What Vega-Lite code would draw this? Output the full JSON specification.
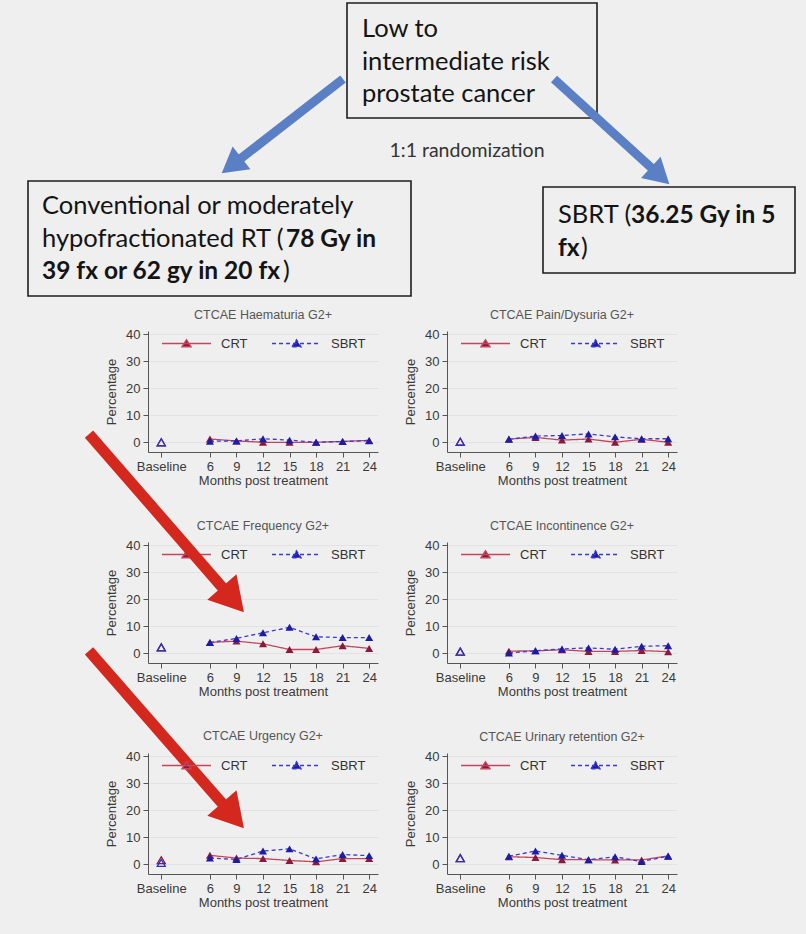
{
  "$schema": "https://vega.github.io/schema/vega-lite/v6.json",
  "autosize": "none",
  "padding": {"left": 148, "top": 0, "right": 658, "bottom": 934},
  "background": "#efefef",
  "columns": 2,
  "spacing": {"row": 90, "column": 69},
  "bounds": "flush",
  "resolve": {
    "scale": {"color": "independent", "strokeDash": "independent"},
    "legend": {"color": "independent", "strokeDash": "independent"}
  },
  "datasets": {
    "boxes": [
      {"x": 347, "x2": 597, "y": 3, "y2": 118},
      {"x": 28, "x2": 411, "y": 181, "y2": 296},
      {"x": 543, "x2": 795, "y": 187, "y2": 273}
    ],
    "arrows": [
      {"x": 343, "y": 79, "x2": 231.6, "y2": 165.6, "angle": 142.2},
      {"x": 554, "y": 79, "x2": 660.1, "y2": 175.8, "angle": 42.4}
    ],
    "labels": [
      {"x": 362, "y": 37, "text": "Low to", "bold": false},
      {"x": 362, "y": 70, "text": "intermediate risk", "bold": false},
      {"x": 362, "y": 102, "text": "prostate cancer", "bold": false},
      {"x": 42, "y": 214, "text": "Conventional or moderately", "bold": false},
      {"x": 42, "y": 247, "text": "hypofractionated RT (", "bold": false},
      {"x": 286, "y": 247, "text": "78 Gy in", "bold": true},
      {"x": 42, "y": 279, "text": "39 fx or 62 gy in 20 fx", "bold": true},
      {"x": 283, "y": 279, "text": ")", "bold": false},
      {"x": 558, "y": 223, "text": "SBRT (", "bold": false},
      {"x": 631, "y": 223, "text": "36.25 Gy in 5", "bold": true},
      {"x": 558, "y": 256, "text": "fx", "bold": true},
      {"x": 581, "y": 256, "text": ")", "bold": false}
    ],
    "notes": [
      {"x": 467, "y": 157, "text": "1:1 randomization"}
    ],
    "pointers": [
      {"month": -7.67, "pct": 159.3, "month2": 8.6, "pct2": 98.0, "angle": 48.9},
      {"month": -7.67, "pct": 79.0, "month2": 8.6, "pct2": 18.0, "angle": 48.9}
    ],
    "tox": [
      {"panel": "Haematuria", "series": "CRT", "month": 0.5, "pct": 0},
      {"panel": "Haematuria", "series": "CRT", "month": 6, "pct": 1.2},
      {"panel": "Haematuria", "series": "CRT", "month": 9, "pct": 0.5},
      {"panel": "Haematuria", "series": "CRT", "month": 12, "pct": 0},
      {"panel": "Haematuria", "series": "CRT", "month": 15, "pct": 0},
      {"panel": "Haematuria", "series": "CRT", "month": 18, "pct": 0},
      {"panel": "Haematuria", "series": "CRT", "month": 21, "pct": 0.3},
      {"panel": "Haematuria", "series": "CRT", "month": 24, "pct": 0.7},
      {"panel": "Haematuria", "series": "SBRT", "month": 0.5, "pct": 0},
      {"panel": "Haematuria", "series": "SBRT", "month": 6, "pct": 0.4},
      {"panel": "Haematuria", "series": "SBRT", "month": 9, "pct": 0.5},
      {"panel": "Haematuria", "series": "SBRT", "month": 12, "pct": 1.3},
      {"panel": "Haematuria", "series": "SBRT", "month": 15, "pct": 0.8},
      {"panel": "Haematuria", "series": "SBRT", "month": 18, "pct": 0},
      {"panel": "Haematuria", "series": "SBRT", "month": 21, "pct": 0.3},
      {"panel": "Haematuria", "series": "SBRT", "month": 24, "pct": 0.6},
      {"panel": "Pain", "series": "CRT", "month": 0.5, "pct": 0.2},
      {"panel": "Pain", "series": "CRT", "month": 6, "pct": 1.2},
      {"panel": "Pain", "series": "CRT", "month": 9, "pct": 1.8},
      {"panel": "Pain", "series": "CRT", "month": 12, "pct": 0.8},
      {"panel": "Pain", "series": "CRT", "month": 15, "pct": 1.2},
      {"panel": "Pain", "series": "CRT", "month": 18, "pct": 0},
      {"panel": "Pain", "series": "CRT", "month": 21, "pct": 1.1},
      {"panel": "Pain", "series": "CRT", "month": 24, "pct": 0},
      {"panel": "Pain", "series": "SBRT", "month": 0.5, "pct": 0.2},
      {"panel": "Pain", "series": "SBRT", "month": 6, "pct": 1.1},
      {"panel": "Pain", "series": "SBRT", "month": 9, "pct": 2.3},
      {"panel": "Pain", "series": "SBRT", "month": 12, "pct": 2.5},
      {"panel": "Pain", "series": "SBRT", "month": 15, "pct": 3.1},
      {"panel": "Pain", "series": "SBRT", "month": 18, "pct": 2.0},
      {"panel": "Pain", "series": "SBRT", "month": 21, "pct": 1.3},
      {"panel": "Pain", "series": "SBRT", "month": 24, "pct": 1.3},
      {"panel": "Frequency", "series": "CRT", "month": 0.5, "pct": 2.2},
      {"panel": "Frequency", "series": "CRT", "month": 6, "pct": 4.0},
      {"panel": "Frequency", "series": "CRT", "month": 9, "pct": 4.5},
      {"panel": "Frequency", "series": "CRT", "month": 12, "pct": 3.5},
      {"panel": "Frequency", "series": "CRT", "month": 15, "pct": 1.4},
      {"panel": "Frequency", "series": "CRT", "month": 18, "pct": 1.4},
      {"panel": "Frequency", "series": "CRT", "month": 21, "pct": 2.8},
      {"panel": "Frequency", "series": "CRT", "month": 24, "pct": 1.8},
      {"panel": "Frequency", "series": "SBRT", "month": 0.5, "pct": 2.2},
      {"panel": "Frequency", "series": "SBRT", "month": 6, "pct": 4.0},
      {"panel": "Frequency", "series": "SBRT", "month": 9, "pct": 5.5},
      {"panel": "Frequency", "series": "SBRT", "month": 12, "pct": 7.6},
      {"panel": "Frequency", "series": "SBRT", "month": 15, "pct": 9.6},
      {"panel": "Frequency", "series": "SBRT", "month": 18, "pct": 6.1},
      {"panel": "Frequency", "series": "SBRT", "month": 21, "pct": 5.8},
      {"panel": "Frequency", "series": "SBRT", "month": 24, "pct": 5.8},
      {"panel": "Incontinence", "series": "CRT", "month": 0.5, "pct": 0.6},
      {"panel": "Incontinence", "series": "CRT", "month": 6, "pct": 0.8},
      {"panel": "Incontinence", "series": "CRT", "month": 9, "pct": 0.9},
      {"panel": "Incontinence", "series": "CRT", "month": 12, "pct": 1.3},
      {"panel": "Incontinence", "series": "CRT", "month": 15, "pct": 0.7},
      {"panel": "Incontinence", "series": "CRT", "month": 18, "pct": 0.7},
      {"panel": "Incontinence", "series": "CRT", "month": 21, "pct": 1.0},
      {"panel": "Incontinence", "series": "CRT", "month": 24, "pct": 0.6},
      {"panel": "Incontinence", "series": "SBRT", "month": 0.5, "pct": 0.6},
      {"panel": "Incontinence", "series": "SBRT", "month": 6, "pct": 0.1},
      {"panel": "Incontinence", "series": "SBRT", "month": 9, "pct": 0.9},
      {"panel": "Incontinence", "series": "SBRT", "month": 12, "pct": 1.6},
      {"panel": "Incontinence", "series": "SBRT", "month": 15, "pct": 2.0},
      {"panel": "Incontinence", "series": "SBRT", "month": 18, "pct": 1.5},
      {"panel": "Incontinence", "series": "SBRT", "month": 21, "pct": 2.6},
      {"panel": "Incontinence", "series": "SBRT", "month": 24, "pct": 2.8},
      {"panel": "Urgency", "series": "CRT", "month": 0.5, "pct": 1.5},
      {"panel": "Urgency", "series": "CRT", "month": 6, "pct": 3.3},
      {"panel": "Urgency", "series": "CRT", "month": 9, "pct": 2.3},
      {"panel": "Urgency", "series": "CRT", "month": 12, "pct": 2.1},
      {"panel": "Urgency", "series": "CRT", "month": 15, "pct": 1.4},
      {"panel": "Urgency", "series": "CRT", "month": 18, "pct": 0.9},
      {"panel": "Urgency", "series": "CRT", "month": 21, "pct": 2.1},
      {"panel": "Urgency", "series": "CRT", "month": 24, "pct": 2.1},
      {"panel": "Urgency", "series": "SBRT", "month": 0.5, "pct": 0.5},
      {"panel": "Urgency", "series": "SBRT", "month": 6, "pct": 2.3},
      {"panel": "Urgency", "series": "SBRT", "month": 9, "pct": 1.8},
      {"panel": "Urgency", "series": "SBRT", "month": 12, "pct": 4.9},
      {"panel": "Urgency", "series": "SBRT", "month": 15, "pct": 5.7},
      {"panel": "Urgency", "series": "SBRT", "month": 18, "pct": 2.0},
      {"panel": "Urgency", "series": "SBRT", "month": 21, "pct": 3.6},
      {"panel": "Urgency", "series": "SBRT", "month": 24, "pct": 3.2},
      {"panel": "Retention", "series": "CRT", "month": 0.5, "pct": 2.3},
      {"panel": "Retention", "series": "CRT", "month": 6, "pct": 2.8},
      {"panel": "Retention", "series": "CRT", "month": 9, "pct": 2.5},
      {"panel": "Retention", "series": "CRT", "month": 12, "pct": 1.7},
      {"panel": "Retention", "series": "CRT", "month": 15, "pct": 1.7},
      {"panel": "Retention", "series": "CRT", "month": 18, "pct": 1.6},
      {"panel": "Retention", "series": "CRT", "month": 21, "pct": 1.6},
      {"panel": "Retention", "series": "CRT", "month": 24, "pct": 3.1},
      {"panel": "Retention", "series": "SBRT", "month": 0.5, "pct": 2.3},
      {"panel": "Retention", "series": "SBRT", "month": 6, "pct": 3.0},
      {"panel": "Retention", "series": "SBRT", "month": 9, "pct": 4.9},
      {"panel": "Retention", "series": "SBRT", "month": 12, "pct": 3.3},
      {"panel": "Retention", "series": "SBRT", "month": 15, "pct": 1.7},
      {"panel": "Retention", "series": "SBRT", "month": 18, "pct": 2.8},
      {"panel": "Retention", "series": "SBRT", "month": 21, "pct": 1.0},
      {"panel": "Retention", "series": "SBRT", "month": 24, "pct": 3.0}
    ]
  },
  "concat": [
    {
      "width": 230,
      "height": 241,
      "encoding": {
        "x": {"field": "x", "type": "quantitative", "scale": {"domain": [148, 378], "nice": false, "zero": false}, "axis": null},
        "y": {"field": "y", "type": "quantitative", "scale": {"domain": [0, 241], "nice": false, "zero": false, "reverse": true}, "axis": null}
      },
      "layer": [
        {
          "data": {"name": "boxes"},
          "mark": {"type": "rect", "filled": false, "color": "#1e1e1e", "strokeWidth": 1.6},
          "encoding": {"x2": {"field": "x2"}, "y2": {"field": "y2"}}
        },
        {
          "data": {"name": "arrows"},
          "mark": {"type": "rule", "color": "#5a7fc4", "strokeWidth": 9},
          "encoding": {"x2": {"field": "x2"}, "y2": {"field": "y2"}}
        },
        {
          "data": {"name": "arrows"},
          "mark": {"type": "point", "shape": "triangle-right", "filled": true, "size": 840, "color": "#5a7fc4", "opacity": 1},
          "encoding": {
            "x": {"field": "x2", "type": "quantitative", "scale": {"domain": [148, 378], "nice": false, "zero": false}, "axis": null},
            "y": {"field": "y2", "type": "quantitative", "scale": {"domain": [0, 241], "nice": false, "zero": false, "reverse": true}, "axis": null},
            "angle": {"field": "angle", "type": "quantitative", "scale": null}
          }
        },
        {
          "data": {"name": "labels"},
          "transform": [{"filter": "!datum.bold"}],
          "mark": {"type": "text", "align": "left", "baseline": "alphabetic", "font": "Lato", "fontSize": 25.5, "color": "#141414"},
          "encoding": {"text": {"field": "text"}}
        },
        {
          "data": {"name": "labels"},
          "transform": [{"filter": "datum.bold"}],
          "mark": {"type": "text", "align": "left", "baseline": "alphabetic", "font": "Lato", "fontSize": 24.5, "fontWeight": "bold", "color": "#141414"},
          "encoding": {"text": {"field": "text"}}
        },
        {
          "data": {"name": "notes"},
          "mark": {"type": "text", "align": "center", "baseline": "alphabetic", "font": "Lato", "fontSize": 19.5, "color": "#333333"},
          "encoding": {"text": {"field": "text"}}
        }
      ]
    },
    {
      "width": 230,
      "height": 241,
      "data": {"values": [{"k": 1}]},
      "mark": {"type": "point", "opacity": 0}
    },
    {
      "title": "CTCAE Haematuria G2+",
      "width": 230,
      "height": 121,
      "data": {"name": "tox"},
      "encoding": {
        "x": {"field": "month", "type": "quantitative", "title": "Months post treatment", "scale": {"domain": [-1, 25], "nice": false, "zero": false}, "axis": {"values": [0.5, 6, 9, 12, 15, 18, 21, 24], "labelExpr": "datum.value < 1 ? 'Baseline' : datum.label"}},
        "y": {"field": "pct", "type": "quantitative", "title": "Percentage", "scale": {"domain": [-3.6, 41.2], "nice": false, "zero": false}, "axis": {"values": [0, 10, 20, 30, 40]}}
      },
      "layer": [
        {
          "transform": [{"filter": "datum.panel === 'Haematuria' && datum.month >= 6"}],
          "mark": {"type": "line", "strokeWidth": 1.3},
          "encoding": {
            "color": {"field": "series", "type": "nominal", "scale": {"domain": ["CRT", "SBRT"], "range": ["#c4455e", "#3b3bd4"]}, "legend": {"title": null, "encode": {"symbols": {"update": {"fill": {"signal": "datum.value === 'CRT' ? '#8a1a3c' : '#1c1ca6'"}}}}}},
            "strokeDash": {"field": "series", "type": "nominal", "scale": {"domain": ["CRT", "SBRT"], "range": [[1, 0], [4, 3]]}, "legend": {"title": null, "encode": {"symbols": {"update": {"fill": {"signal": "datum.value === 'CRT' ? '#8a1a3c' : '#1c1ca6'"}}}}}}
          }
        },
        {
          "transform": [{"filter": "datum.panel === 'Haematuria' && datum.month >= 6"}],
          "mark": {"type": "point", "shape": "triangle-up", "filled": true, "size": 65, "opacity": 1},
          "encoding": {"fill": {"field": "series", "type": "nominal", "scale": {"domain": ["CRT", "SBRT"], "range": ["#8a1a3c", "#1c1ca6"]}, "legend": null}}
        },
        {
          "transform": [{"filter": "datum.panel === 'Haematuria' && datum.month < 1"}],
          "mark": {"type": "point", "shape": "triangle-up", "filled": false, "size": 65, "strokeWidth": 1.3, "opacity": 1},
          "encoding": {"stroke": {"field": "series", "type": "nominal", "scale": {"domain": ["CRT", "SBRT"], "range": ["#8a1a3c", "#3030c0"]}, "legend": null}}
        }
      ]
    },
    {
      "title": "CTCAE Pain/Dysuria G2+",
      "width": 230,
      "height": 121,
      "data": {"name": "tox"},
      "encoding": {
        "x": {"field": "month", "type": "quantitative", "title": "Months post treatment", "scale": {"domain": [-1, 25], "nice": false, "zero": false}, "axis": {"values": [0.5, 6, 9, 12, 15, 18, 21, 24], "labelExpr": "datum.value < 1 ? 'Baseline' : datum.label"}},
        "y": {"field": "pct", "type": "quantitative", "title": "Percentage", "scale": {"domain": [-3.6, 41.2], "nice": false, "zero": false}, "axis": {"values": [0, 10, 20, 30, 40]}}
      },
      "layer": [
        {
          "transform": [{"filter": "datum.panel === 'Pain' && datum.month >= 6"}],
          "mark": {"type": "line", "strokeWidth": 1.3},
          "encoding": {
            "color": {"field": "series", "type": "nominal", "scale": {"domain": ["CRT", "SBRT"], "range": ["#c4455e", "#3b3bd4"]}, "legend": {"title": null, "encode": {"symbols": {"update": {"fill": {"signal": "datum.value === 'CRT' ? '#8a1a3c' : '#1c1ca6'"}}}}}},
            "strokeDash": {"field": "series", "type": "nominal", "scale": {"domain": ["CRT", "SBRT"], "range": [[1, 0], [4, 3]]}, "legend": {"title": null, "encode": {"symbols": {"update": {"fill": {"signal": "datum.value === 'CRT' ? '#8a1a3c' : '#1c1ca6'"}}}}}}
          }
        },
        {
          "transform": [{"filter": "datum.panel === 'Pain' && datum.month >= 6"}],
          "mark": {"type": "point", "shape": "triangle-up", "filled": true, "size": 65, "opacity": 1},
          "encoding": {"fill": {"field": "series", "type": "nominal", "scale": {"domain": ["CRT", "SBRT"], "range": ["#8a1a3c", "#1c1ca6"]}, "legend": null}}
        },
        {
          "transform": [{"filter": "datum.panel === 'Pain' && datum.month < 1"}],
          "mark": {"type": "point", "shape": "triangle-up", "filled": false, "size": 65, "strokeWidth": 1.3, "opacity": 1},
          "encoding": {"stroke": {"field": "series", "type": "nominal", "scale": {"domain": ["CRT", "SBRT"], "range": ["#8a1a3c", "#3030c0"]}, "legend": null}}
        }
      ]
    },
    {
      "title": "CTCAE Frequency G2+",
      "width": 230,
      "height": 121,
      "data": {"name": "tox"},
      "encoding": {
        "x": {"field": "month", "type": "quantitative", "title": "Months post treatment", "scale": {"domain": [-1, 25], "nice": false, "zero": false}, "axis": {"values": [0.5, 6, 9, 12, 15, 18, 21, 24], "labelExpr": "datum.value < 1 ? 'Baseline' : datum.label"}},
        "y": {"field": "pct", "type": "quantitative", "title": "Percentage", "scale": {"domain": [-3.6, 41.2], "nice": false, "zero": false}, "axis": {"values": [0, 10, 20, 30, 40]}}
      },
      "layer": [
        {
          "transform": [{"filter": "datum.panel === 'Frequency' && datum.month >= 6"}],
          "mark": {"type": "line", "strokeWidth": 1.3},
          "encoding": {
            "color": {"field": "series", "type": "nominal", "scale": {"domain": ["CRT", "SBRT"], "range": ["#c4455e", "#3b3bd4"]}, "legend": {"title": null, "encode": {"symbols": {"update": {"fill": {"signal": "datum.value === 'CRT' ? '#8a1a3c' : '#1c1ca6'"}}}}}},
            "strokeDash": {"field": "series", "type": "nominal", "scale": {"domain": ["CRT", "SBRT"], "range": [[1, 0], [4, 3]]}, "legend": {"title": null, "encode": {"symbols": {"update": {"fill": {"signal": "datum.value === 'CRT' ? '#8a1a3c' : '#1c1ca6'"}}}}}}
          }
        },
        {
          "transform": [{"filter": "datum.panel === 'Frequency' && datum.month >= 6"}],
          "mark": {"type": "point", "shape": "triangle-up", "filled": true, "size": 65, "opacity": 1},
          "encoding": {"fill": {"field": "series", "type": "nominal", "scale": {"domain": ["CRT", "SBRT"], "range": ["#8a1a3c", "#1c1ca6"]}, "legend": null}}
        },
        {
          "transform": [{"filter": "datum.panel === 'Frequency' && datum.month < 1"}],
          "mark": {"type": "point", "shape": "triangle-up", "filled": false, "size": 65, "strokeWidth": 1.3, "opacity": 1},
          "encoding": {"stroke": {"field": "series", "type": "nominal", "scale": {"domain": ["CRT", "SBRT"], "range": ["#8a1a3c", "#3030c0"]}, "legend": null}}
        }
      ]
    },
    {
      "title": "CTCAE Incontinence G2+",
      "width": 230,
      "height": 121,
      "data": {"name": "tox"},
      "encoding": {
        "x": {"field": "month", "type": "quantitative", "title": "Months post treatment", "scale": {"domain": [-1, 25], "nice": false, "zero": false}, "axis": {"values": [0.5, 6, 9, 12, 15, 18, 21, 24], "labelExpr": "datum.value < 1 ? 'Baseline' : datum.label"}},
        "y": {"field": "pct", "type": "quantitative", "title": "Percentage", "scale": {"domain": [-3.6, 41.2], "nice": false, "zero": false}, "axis": {"values": [0, 10, 20, 30, 40]}}
      },
      "layer": [
        {
          "transform": [{"filter": "datum.panel === 'Incontinence' && datum.month >= 6"}],
          "mark": {"type": "line", "strokeWidth": 1.3},
          "encoding": {
            "color": {"field": "series", "type": "nominal", "scale": {"domain": ["CRT", "SBRT"], "range": ["#c4455e", "#3b3bd4"]}, "legend": {"title": null, "encode": {"symbols": {"update": {"fill": {"signal": "datum.value === 'CRT' ? '#8a1a3c' : '#1c1ca6'"}}}}}},
            "strokeDash": {"field": "series", "type": "nominal", "scale": {"domain": ["CRT", "SBRT"], "range": [[1, 0], [4, 3]]}, "legend": {"title": null, "encode": {"symbols": {"update": {"fill": {"signal": "datum.value === 'CRT' ? '#8a1a3c' : '#1c1ca6'"}}}}}}
          }
        },
        {
          "transform": [{"filter": "datum.panel === 'Incontinence' && datum.month >= 6"}],
          "mark": {"type": "point", "shape": "triangle-up", "filled": true, "size": 65, "opacity": 1},
          "encoding": {"fill": {"field": "series", "type": "nominal", "scale": {"domain": ["CRT", "SBRT"], "range": ["#8a1a3c", "#1c1ca6"]}, "legend": null}}
        },
        {
          "transform": [{"filter": "datum.panel === 'Incontinence' && datum.month < 1"}],
          "mark": {"type": "point", "shape": "triangle-up", "filled": false, "size": 65, "strokeWidth": 1.3, "opacity": 1},
          "encoding": {"stroke": {"field": "series", "type": "nominal", "scale": {"domain": ["CRT", "SBRT"], "range": ["#8a1a3c", "#3030c0"]}, "legend": null}}
        }
      ]
    },
    {
      "title": {"text": "CTCAE Urgency G2+", "dy": 321},
      "width": 230,
      "height": 121,
      "data": {"name": "tox"},
      "encoding": {
        "x": {"field": "month", "type": "quantitative", "title": "Months post treatment", "scale": {"domain": [-1, 25], "nice": false, "zero": false}, "axis": {"values": [0.5, 6, 9, 12, 15, 18, 21, 24], "labelExpr": "datum.value < 1 ? 'Baseline' : datum.label"}},
        "y": {"field": "pct", "type": "quantitative", "title": "Percentage", "scale": {"domain": [-3.6, 41.2], "nice": false, "zero": false}, "axis": {"values": [0, 10, 20, 30, 40]}}
      },
      "layer": [
        {
          "transform": [{"filter": "datum.panel === 'Urgency' && datum.month >= 6"}],
          "mark": {"type": "line", "strokeWidth": 1.3},
          "encoding": {
            "color": {"field": "series", "type": "nominal", "scale": {"domain": ["CRT", "SBRT"], "range": ["#c4455e", "#3b3bd4"]}, "legend": {"title": null, "encode": {"symbols": {"update": {"fill": {"signal": "datum.value === 'CRT' ? '#8a1a3c' : '#1c1ca6'"}}}}}},
            "strokeDash": {"field": "series", "type": "nominal", "scale": {"domain": ["CRT", "SBRT"], "range": [[1, 0], [4, 3]]}, "legend": {"title": null, "encode": {"symbols": {"update": {"fill": {"signal": "datum.value === 'CRT' ? '#8a1a3c' : '#1c1ca6'"}}}}}}
          }
        },
        {
          "transform": [{"filter": "datum.panel === 'Urgency' && datum.month >= 6"}],
          "mark": {"type": "point", "shape": "triangle-up", "filled": true, "size": 65, "opacity": 1},
          "encoding": {"fill": {"field": "series", "type": "nominal", "scale": {"domain": ["CRT", "SBRT"], "range": ["#8a1a3c", "#1c1ca6"]}, "legend": null}}
        },
        {
          "transform": [{"filter": "datum.panel === 'Urgency' && datum.month < 1"}],
          "mark": {"type": "point", "shape": "triangle-up", "filled": false, "size": 65, "strokeWidth": 1.3, "opacity": 1},
          "encoding": {"stroke": {"field": "series", "type": "nominal", "scale": {"domain": ["CRT", "SBRT"], "range": ["#8a1a3c", "#3030c0"]}, "legend": null}}
        },
        {
          "data": {"name": "pointers"},
          "mark": {"type": "rule", "color": "#d4281f", "strokeWidth": 11, "strokeCap": "butt"},
          "encoding": {"x2": {"field": "month2"}, "y2": {"field": "pct2"}}
        },
        {
          "data": {"name": "pointers"},
          "mark": {"type": "point", "shape": "triangle-right", "filled": true, "size": 1500, "color": "#d4281f", "opacity": 1},
          "encoding": {
            "x": {"field": "month2", "type": "quantitative", "title": "Months post treatment", "scale": {"domain": [-1, 25], "nice": false, "zero": false}},
            "y": {"field": "pct2", "type": "quantitative", "title": "Percentage", "scale": {"domain": [-3.6, 41.2], "nice": false, "zero": false}},
            "angle": {"field": "angle", "type": "quantitative", "scale": null}
          }
        }
      ]
    },
    {
      "title": "CTCAE Urinary retention G2+",
      "width": 230,
      "height": 121,
      "data": {"name": "tox"},
      "encoding": {
        "x": {"field": "month", "type": "quantitative", "title": "Months post treatment", "scale": {"domain": [-1, 25], "nice": false, "zero": false}, "axis": {"values": [0.5, 6, 9, 12, 15, 18, 21, 24], "labelExpr": "datum.value < 1 ? 'Baseline' : datum.label"}},
        "y": {"field": "pct", "type": "quantitative", "title": "Percentage", "scale": {"domain": [-3.6, 41.2], "nice": false, "zero": false}, "axis": {"values": [0, 10, 20, 30, 40]}}
      },
      "layer": [
        {
          "transform": [{"filter": "datum.panel === 'Retention' && datum.month >= 6"}],
          "mark": {"type": "line", "strokeWidth": 1.3},
          "encoding": {
            "color": {"field": "series", "type": "nominal", "scale": {"domain": ["CRT", "SBRT"], "range": ["#c4455e", "#3b3bd4"]}, "legend": {"title": null, "encode": {"symbols": {"update": {"fill": {"signal": "datum.value === 'CRT' ? '#8a1a3c' : '#1c1ca6'"}}}}}},
            "strokeDash": {"field": "series", "type": "nominal", "scale": {"domain": ["CRT", "SBRT"], "range": [[1, 0], [4, 3]]}, "legend": {"title": null, "encode": {"symbols": {"update": {"fill": {"signal": "datum.value === 'CRT' ? '#8a1a3c' : '#1c1ca6'"}}}}}}
          }
        },
        {
          "transform": [{"filter": "datum.panel === 'Retention' && datum.month >= 6"}],
          "mark": {"type": "point", "shape": "triangle-up", "filled": true, "size": 65, "opacity": 1},
          "encoding": {"fill": {"field": "series", "type": "nominal", "scale": {"domain": ["CRT", "SBRT"], "range": ["#8a1a3c", "#1c1ca6"]}, "legend": null}}
        },
        {
          "transform": [{"filter": "datum.panel === 'Retention' && datum.month < 1"}],
          "mark": {"type": "point", "shape": "triangle-up", "filled": false, "size": 65, "strokeWidth": 1.3, "opacity": 1},
          "encoding": {"stroke": {"field": "series", "type": "nominal", "scale": {"domain": ["CRT", "SBRT"], "range": ["#8a1a3c", "#3030c0"]}, "legend": null}}
        }
      ]
    }
  ],
  "config": {
    "view": {"stroke": null},
    "font": "Liberation Sans",
    "title": {"fontSize": 12.5, "fontWeight": "normal", "color": "#555555", "offset": 7, "frame": "group"},
    "axis": {"domainColor": "#555555", "tickColor": "#555555", "labelColor": "#3a3a3a", "titleColor": "#3a3a3a", "labelFontSize": 13, "titleFontSize": 13, "titleFontWeight": "normal", "tickSize": 5, "labelPadding": 3, "labelFlush": false, "labelOverlap": false, "labelBound": false},
    "axisY": {"grid": true, "gridColor": "#e2e2e2", "titlePadding": 7},
    "axisX": {"grid": false, "titlePadding": 1, "labelAngle": 0},
    "legend": {"orient": "none", "legendX": 31.5, "legendY": 5.5, "direction": "horizontal", "symbolType": "M-4.08,0L4.08,0M-0.75,0.55L0,-0.62L0.75,0.55Z", "symbolSize": 144, "symbolStrokeWidth": 1.4, "labelFontSize": 13, "labelColor": "#333333", "labelOffset": 27.5, "columnPadding": 21, "padding": 0}
  }
}
